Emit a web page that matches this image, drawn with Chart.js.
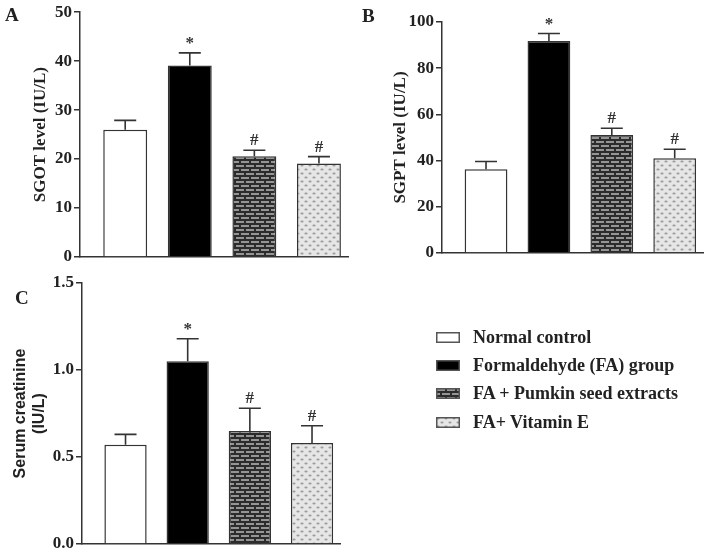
<!DOCTYPE html>
<html>
<head>
<meta charset="utf-8">
<script src="https://cdn.jsdelivr.net/npm/chart.js@4/dist/chart.umd.min.js"></script>
<style>
body{margin:0;background:#fff;width:706px;height:553px;position:relative;overflow:hidden;font-family:'Liberation Serif',serif;color:#222}
canvas.panel{position:absolute}
.tag{position:absolute;font-weight:bold;font-size:19px;line-height:1}
#legend{position:absolute;left:436px;top:323px}
.item{display:flex;align-items:center;height:28.3px;font-weight:bold;font-size:18px;white-space:nowrap}
.item canvas{margin-right:13px}
</style>
</head>
<body>
<canvas id="chartA" class="panel" width="360" height="270" style="left:0;top:0"></canvas>
<canvas id="chartB" class="panel" width="346" height="270" style="left:360px;top:0"></canvas>
<canvas id="chartC" class="panel" width="360" height="300" style="left:0;top:270px"></canvas>
<div class="tag" style="left:5px;top:5px">A</div>
<div class="tag" style="left:362px;top:6px">B</div>
<div class="tag" style="left:15px;top:288px">C</div>
<div id="legend"></div>
<script>
const groups = ['Normal control', 'Formaldehyde (FA) group', 'FA + Pumkin seed extracts', 'FA+ Vitamin E']
const sgot = [26.0, 39.1, 20.6, 19.1]
const sgotErr = [1.9, 2.6, 1.2, 1.4]
const sgpt = [36.3, 91.8, 51.1, 41.0]
const sgptErr = [3.3, 3.2, 2.9, 3.9]
const creat = [0.57, 1.05, 0.65, 0.58]
const creatErr = [0.06, 0.13, 0.13, 0.10]
const marks = ['', '*', '#', '#']

const serif = 'Liberation Serif'
const ink = '#333'

// fills: plain, solid, brick, dotted
function brickPattern() {
    const c = document.createElement('canvas')
    c.width = 10; c.height = 8
    const g = c.getContext('2d')
    g.fillStyle = '#2c2c2c'
    g.fillRect(0, 0, 10, 8)
    g.fillStyle = '#959595'
    g.fillRect(1, 1, 8, 2)
    g.fillRect(6, 5, 8, 2)
    g.fillRect(-4, 5, 8, 2)
    return c
}
function dotPattern() {
    const c = document.createElement('canvas')
    c.width = 8; c.height = 8
    const g = c.getContext('2d')
    g.fillStyle = '#e6e6e6'
    g.fillRect(0, 0, 8, 8)
    g.fillStyle = '#9c9c9c'
    g.beginPath(); g.ellipse(2, 1.5, 1.6, 1, 0, 0, Math.PI * 2); g.fill()
    g.beginPath(); g.ellipse(6, 5.5, 1.6, 1, 0, 0, Math.PI * 2); g.fill()
    return c
}
function fills(ctx) {
    return ['#ffffff', '#000000',
        ctx.createPattern(brickPattern(), 'repeat'),
        ctx.createPattern(dotPattern(), 'repeat')]
}

// spread the four categories like the original figure
function spread(scale) {
    scale._startValue = -0.7
    scale._valueRange = 4.15
}

const errorBars = {
    id: 'errorBars',
    afterDatasetsDraw(chart) {
        const ctx = chart.ctx
        const y = chart.scales.y
        const ds = chart.data.datasets[0]
        chart.getDatasetMeta(0).data.forEach(function (bar, i) {
            const top = y.getPixelForValue(ds.data[i] + ds.err[i])
            ctx.save()
            ctx.strokeStyle = ink
            ctx.lineWidth = 1.6
            ctx.beginPath()
            ctx.moveTo(bar.x, bar.y)
            ctx.lineTo(bar.x, top)
            ctx.moveTo(bar.x - 11, top)
            ctx.lineTo(bar.x + 11, top)
            ctx.stroke()
            if (marks[i]) {
                ctx.fillStyle = ink
                ctx.font = 'bold 17px ' + serif
                ctx.textAlign = 'center'
                ctx.textBaseline = 'alphabetic'
                ctx.fillText(marks[i], bar.x, top - 5)
            }
            ctx.restore()
        })
    }
}

function makeChart(id, values, errs, max, step, title, titleFont, pad, yWidth, digits) {
    const canvas = document.getElementById(id)
    const ctx = canvas.getContext('2d')
    return new Chart(ctx, {
        type: 'bar',
        data: {
            labels: groups,
            datasets: [{
                data: values,
                err: errs,
                backgroundColor: fills(ctx),
                borderColor: ink,
                borderWidth: 1.5,
                barPercentage: 0.68,
                categoryPercentage: 1
            }]
        },
        options: {
            responsive: false,
            animation: false,
            layout: { padding: pad },
            plugins: { legend: { display: false }, tooltip: { enabled: false } },
            scales: {
                x: {
                    grid: { display: false, drawTicks: false },
                    border: { color: ink, width: 1.5 },
                    ticks: { display: false },
                    afterBuildTicks: spread
                },
                y: {
                    min: 0,
                    max: max,
                    ticks: {
                        stepSize: step,
                        color: '#222',
                        padding: 2,
                        font: { family: serif, weight: 'bold', size: 17 },
                        callback: function (v) { return v.toFixed(digits) }
                    },
                    grid: { drawOnChartArea: false, tickLength: 6, color: ink, lineWidth: 1.5 },
                    border: { color: ink, width: 1.5 },
                    title: { display: true, text: title, color: '#222', font: titleFont },
                    afterFit: function (s) { s.width = yWidth }
                }
            }
        },
        plugins: [errorBars]
    })
}

const titleSerif = { family: serif, weight: 'bold', size: 17 }
makeChart('chartA', sgot, sgotErr, 50, 10, 'SGOT level (IU/L)', titleSerif,
    { left: 26, top: 12, right: 12, bottom: 13 }, 54, 0)
makeChart('chartB', sgpt, sgptErr, 100, 20, 'SGPT level (IU/L)', titleSerif,
    { left: 26, top: 22, right: 3, bottom: 17 }, 56, 0)
makeChart('chartC', creat, creatErr, 1.5, 0.5, ['Serum creatinine', '(IU/L)'],
    { family: 'Liberation Sans', weight: 'bold', size: 16 },
    { left: 7, top: 13, right: 20, bottom: 26 }, 75, 1)

// legend
const legend = document.getElementById('legend')
groups.forEach(function (name, i) {
    const row = document.createElement('div')
    row.className = 'item'
    const sw = document.createElement('canvas')
    sw.width = 24; sw.height = 11
    const g = sw.getContext('2d')
    g.fillStyle = fills(g)[i]
    g.fillRect(0, 0, 24, 11)
    g.strokeStyle = '#555'
    g.lineWidth = 1.5
    g.strokeRect(0.75, 0.75, 22.5, 9.5)
    row.appendChild(sw)
    const label = document.createElement('span')
    label.textContent = name
    row.appendChild(label)
    legend.appendChild(row)
})
</script>
</body>
</html>
